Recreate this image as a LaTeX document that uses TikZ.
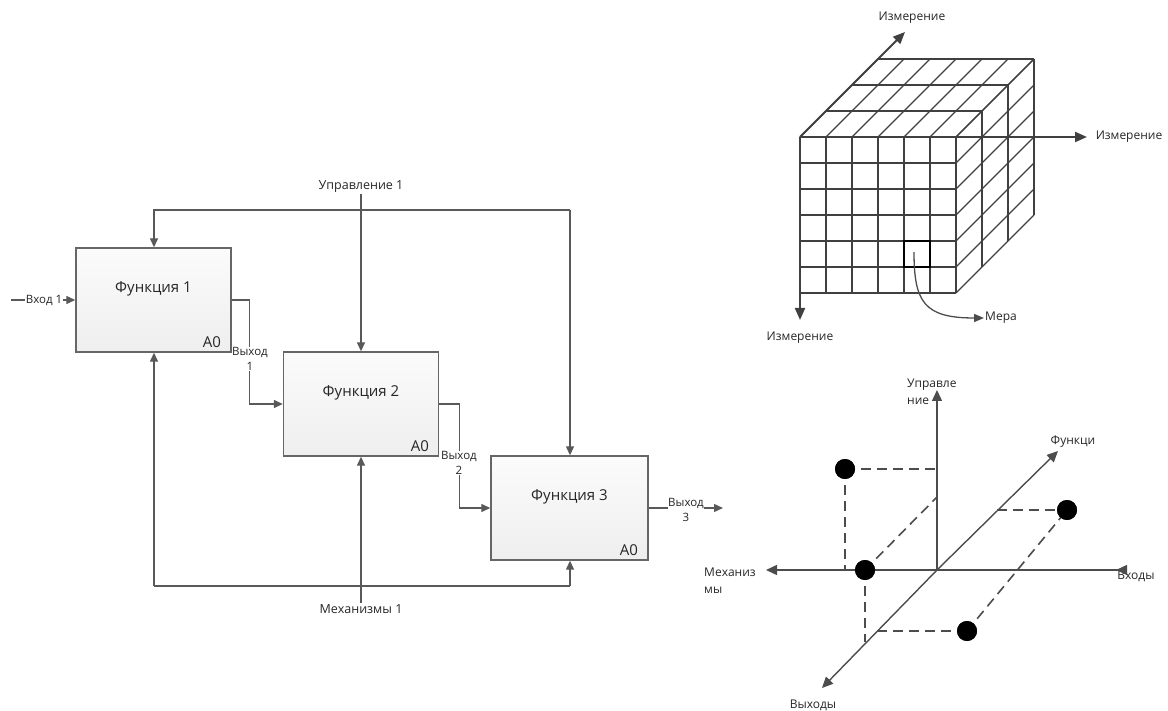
\documentclass[tikz,border=0pt]{standalone}
\usepackage{fontspec}
\setmainfont{Open Sans}
\usetikzlibrary{arrows.meta}
\begin{document}
\begin{tikzpicture}[x=1pt,y=-1pt,
  line/.style={draw=black!65, line width=1.3pt},
  arr/.style={line, -{Triangle[length=9pt,width=8pt]}},
  box/.style={draw=black!60, line width=1.4pt, top color=gray!3, bottom color=gray!13,
              minimum width=155pt, minimum height=104pt, inner sep=0pt},
  fn/.style={font=\fontsize{15}{17}\selectfont, text=black!85, inner sep=1pt},
  ctl/.style={font=\fontsize{12.5}{14}\selectfont, text=black!85, inner sep=1pt},
  lbl/.style={font=\fontsize{11.5}{15}\selectfont, text=black!85, align=center, inner sep=0.5pt, fill=white},
  small/.style={font=\fontsize{12}{16}\selectfont, text=black!85, inner sep=1pt},
  cube/.style={draw=black!75, line width=1.1pt},
  axis/.style={draw=black!75, line width=2pt, -{Triangle[length=12pt,width=10pt]}},
  ax/.style={draw=black!70, line width=1.4pt},
  axa/.style={ax, -{Triangle[length=11pt,width=10pt]}},
  dsh/.style={draw=black!70, line width=1.6pt, dash pattern=on 10pt off 6pt},
  pt/.style={circle, fill=black, minimum size=20pt, inner sep=0pt}
]
\useasboundingbox (0,0) rectangle (1168,711);

% ---------------- IDEF0 part ----------------
\node[box] (b1) at (153.5,300) {};
\node[box] (b2) at (361,404) {};
\node[box, minimum width=157pt] (b3) at (569.5,508) {};

\node[fn] (t1) at (153.5,289) {Функция 1};
\node[fn] (t2) at (361,393) {Функция 2};
\node[fn] (t3) at (569.5,497) {Функция 3};
\node[fn] (a1) at (212,342) {A0};
\node[fn] (a2) at (420,446) {A0};
\node[fn] (a3) at (629,550) {A0};

% control
\node[ctl] (u) at (361,187) {Управление 1};
\coordinate (cl) at (154,210);
\coordinate (cr) at (570,210);
\draw[arr] (u.south) -- (b2.north);
\draw[arr] (cr) -- (cl) -- (cl |- b1.north);
\draw[arr] (cr) -- (cr |- b3.north);

% mechanisms
\node[ctl] (m) at (361,609) {Механизмы 1};
\coordinate (ml) at (154,586);
\coordinate (mr) at (570,586);
\draw[arr] (m.north) -- (b2.south);
\draw[line] (ml) -- (mr);
\draw[arr] (ml) -- (ml |- b1.south);
\draw[arr] (mr) -- (mr |- b3.south);

% input
\coordinate (in) at (11,300);
\draw[arr] (in) -- (b1.west);
\node[lbl] (inl) at (44,300) {Вход 1};

% outputs
\draw[arr] (b1.east) -- ++(18,0) |- (b2.west);
\node[lbl] (o1) at (250,359) {Выход\\1};
\draw[arr] (b2.east) -- ++(20,0) |- (b3.west);
\node[lbl] (o2) at (459,463) {Выход\\2};
\coordinate (o3e) at (723,508);
\draw[arr] (b3.east) -- (o3e);
\node[lbl] (o3) at (686,510) {Выход\\3};

% ---------------- Cube ----------------
\foreach \i in {0,...,6} {
  \draw[cube] (800+26*\i,137) -- (800+26*\i,293);
  \draw[cube] (800,137+26*\i) -- (956,137+26*\i);
  \draw[cube] (800+26*\i,137) -- (878+26*\i,59);
  \draw[cube] (956,137+26*\i) -- (1034,59+26*\i);
}
\foreach \k in {1,2,3} {
  \draw[cube] (800+26*\k,137-26*\k) -- (956+26*\k,137-26*\k);
  \draw[cube] (956+26*\k,137-26*\k) -- (956+26*\k,293-26*\k);
}
\node[draw=black, line width=2.8pt, minimum size=26pt, inner sep=0pt] (cell) at (917,254) {};

\coordinate (co) at (800,137);
\coordinate (ex) at (1087,137);
\coordinate (ey) at (800,320);
\coordinate (ez) at (905,32);
\draw[axis] (co) -- (ex);
\draw[axis] (co) -- (ey);
\draw[axis] (co) -- (ez);
\node[small] (lx) at (1129,137) {Измерение};
\node[small] (ly) at (800,338) {Измерение};
\node[small] (lz) at (912,18) {Измерение};

\node[small, anchor=west] (mera) at (984,318) {Мера};
\draw[ax, line width=1.3pt, -{Triangle[length=10pt,width=8pt]}] (914,252) .. controls (914,302) and (924,318) .. (mera.west);

% ---------------- 3D axes ----------------
\node[small, align=left, anchor=west, font=\fontsize{12}{17}\selectfont] (lu) at (906,392) {Управле\\ние};
\node[small] (lf) at (1073,442) {Функци};
\node[small, align=left, anchor=west, font=\fontsize{12}{17}\selectfont] (lm) at (703,581) {Механиз\\мы};
\node[small] (lin) at (1136,576) {Входы};
\node[small] (lout) at (813,705) {Выходы};

\coordinate (o) at (937,570);
\coordinate (up) at (937,390);
\coordinate (lf0) at (766,570);
\coordinate (rt) at (1127,570);
\coordinate (dl) at (822,688);
\coordinate (ur) at (1058,451);
\draw[axa] (o) -- (up);
\draw[ax, {Triangle[reversed,length=11pt,width=10pt]}-{Triangle[length=11pt,width=10pt]}] (rt) -- (lf0);
\draw[axa] (o) -- (dl);
\draw[axa] (o) -- (ur);

\coordinate (q1) at (937,469);
\coordinate (q2) at (845,570);
\coordinate (q3) at (937,497);
\coordinate (q4) at (865,642);
\coordinate (q5) at (877,631);
\coordinate (q6) at (997,510);
\node[pt] (p1) at (845,469) {};
\node[pt] (p2) at (865,570) {};
\node[pt] (p3) at (1067,510) {};
\node[pt] (p4) at (967,631) {};
\draw[dsh] (p1.center) -- (q1);
\draw[dsh] (p1.center) -- (q2);
\draw[dsh] (p2.center) -- (q3);
\draw[dsh] (p2.center) -- (q4);
\draw[dsh] (q5) -- (p4.center);
\draw[dsh] (p4.center) -- (p3.center);
\draw[dsh] (q6) -- (p3.center);
\node[pt] at (p1) {};
\node[pt] at (p2) {};
\node[pt] at (p3) {};
\node[pt] at (p4) {};
\end{tikzpicture}
\end{document}
